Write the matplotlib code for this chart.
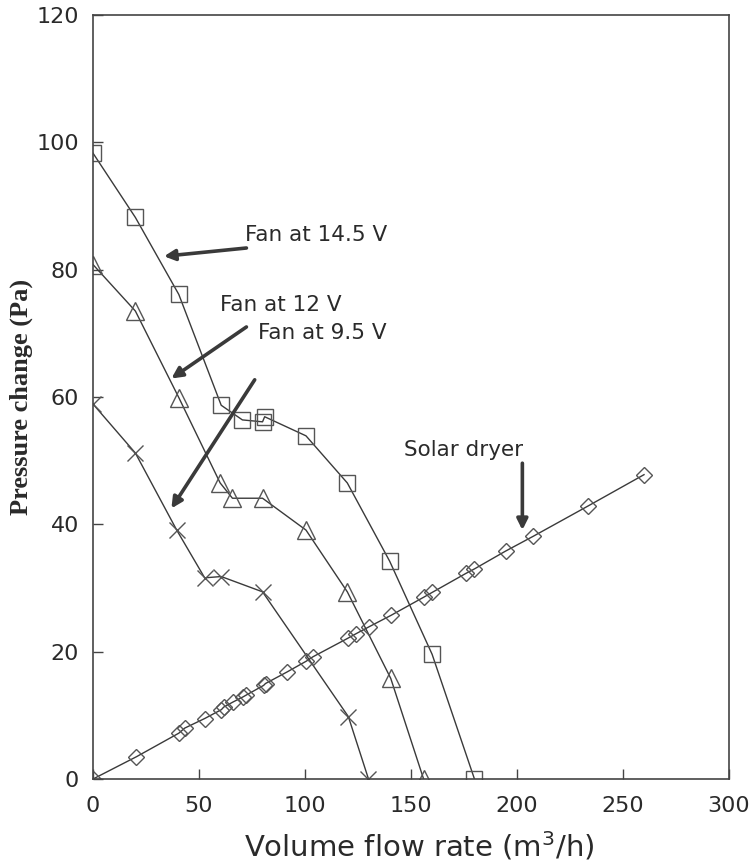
import matplotlib
matplotlib.use('Agg')
from matplotlib import pyplot as plt

# Fan at 14.5 V
fan145_x = [0, 20, 40.5, 60.5, 70.5, 80, 81, 100.5, 120, 140, 160, 180]
fan145_y = [98.3, 88.2, 76.1, 58.7, 56.4, 56.1, 56.9, 53.9, 46.5, 34.2, 19.6, 0]

# Fan at 12 V
fan12_x = [0, 20, 40.5, 60, 65.8, 80, 100.5, 120, 140.5, 156]
fan12_y = [80.8, 73.5, 59.9, 46.5, 44.1, 44.1, 39.1, 29.4, 15.8, 0]

# Fan at 9.5 V
fan95_x = [0, 20, 39.5, 52.7, 60.5, 80, 120.5, 130]
fan95_y = [58.9, 51.2, 39.1, 31.6, 31.8, 29.4, 9.8, 0]

# Solar dryer
dryer_x = [0, 20.5, 40.5, 43.3, 52.7, 60.6, 61.7, 66.1, 70.8, 72.4, 80.5, 81.4, 91.5,
           100.6, 103.8, 120.2, 124, 130.2, 140.6, 156.3, 160, 176, 180, 194.7, 207.6, 233.7, 260]
dryer_y = [0, 3.5, 7.2, 8.0, 9.5, 10.9, 11.3, 12.1, 12.9, 13.2, 14.7, 15.0, 16.8,
           18.5, 19.2, 22.1, 22.8, 23.9, 25.7, 28.6, 29.3, 32.3, 33.0, 35.8, 38.1, 42.9, 47.8]

line_color = '#3a3a3a'
mark_color = '#555555'
sans = 'DejaVu Sans'


def main():
	fig = plt.figure(figsize=(7.56, 8.65), dpi=100)
	ax = fig.add_axes([0.123, 0.0994, 0.841, 0.8833])

	common = dict(color=line_color, lw=1.0, mec=mark_color, mfc='none', mew=1.0)
	ax.plot(fan145_x, fan145_y, marker='s', ms=12, **common)
	ax.plot(fan12_x, fan12_y, marker='^', ms=13, **common)
	ax.plot(fan95_x, fan95_y, marker='x', ms=11, **common)
	ax.plot(dryer_x, dryer_y, marker='D', ms=8.5, **common)

	ax.set_xlim(0, 300)
	ax.set_ylim(0, 120)
	ax.set_xticks(range(0, 301, 50))
	ax.set_yticks(range(0, 121, 20))
	ax.tick_params(direction='in', length=7, width=1, color='#444444',
		labelsize=16, labelcolor='#2a2a2a')
	ax.tick_params(axis='x', pad=12)
	ax.tick_params(axis='y', pad=10)
	for lab in ax.get_xticklabels() + ax.get_yticklabels():
		lab.set_family(sans)
	for sp in ax.spines.values():
		sp.set_color('#444444')
		sp.set_linewidth(1.2)

	ax.set_xlabel('Volume flow rate (m$^3$/h)', fontsize=21, family=sans, color='#2a2a2a',
		va='center')
	ax.xaxis.set_label_coords(0.513, -0.088)
	ax.set_ylabel('Pressure change (Pa)', fontsize=19, family='Liberation Serif',
		fontweight='bold', color='#2a2a2a')
	ax.yaxis.set_label_coords(-0.094, 0.5)

	arrow = dict(arrowstyle='-|>', lw=2.6, color='#3a3a3a', mutation_scale=16, shrinkA=0, shrinkB=0)
	txt = dict(fontsize=15.5, family=sans, color='#2a2a2a', va='center', ha='left')
	ax.annotate('', xy=(33.5, 82.1), xytext=(72.4, 83.4), arrowprops=arrow)
	ax.text(71.6, 85.4, 'Fan at 14.5 V', **txt)
	ax.annotate('', xy=(37.0, 62.9), xytext=(72.4, 71.0), arrowprops=arrow)
	ax.text(59.8, 74.4, 'Fan at 12 V', **txt)
	ax.annotate('', xy=(37.0, 42.5), xytext=(76.3, 62.7), arrowprops=arrow)
	ax.text(77.7, 70.0, 'Fan at 9.5 V', **txt)
	ax.annotate('', xy=(202.6, 39.1), xytext=(202.6, 49.6), arrowprops=arrow)
	ax.text(146.9, 51.7, 'Solar dryer', **txt)

	plt.savefig('out.png', dpi=100)


if __name__ == "__main__":
	main()
